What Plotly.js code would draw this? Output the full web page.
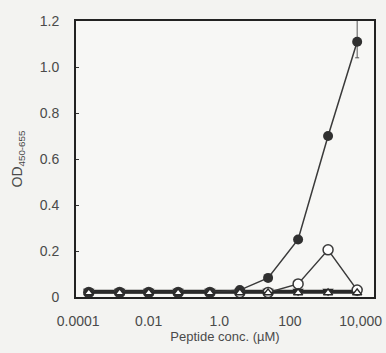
<!DOCTYPE html>
<html><head><meta charset="utf-8">
<script src="https://cdn.plot.ly/plotly-3.0.1.min.js"></script>
<style>html,body{margin:0;padding:0;background:#f3f3f1;}</style>
</head><body><div id="chart" style="width:386px;height:353px;"></div>
<script>
const conc = [0.0002, 0.0015, 0.01, 0.068, 0.54, 3.8, 24, 170, 1200, 8000];
const filledCircle = [0.02, 0.02, 0.02, 0.02, 0.02, 0.03, 0.083, 0.25, 0.70, 1.11];
const openCircle = [0.02, 0.02, 0.02, 0.02, 0.02, 0.02, 0.02, 0.057, 0.205, 0.03];
const filledTriangle = [0.025, 0.025, 0.025, 0.025, 0.025, 0.025, 0.025, 0.025, 0.025, 0.025];
const openTriangle = [0.018, 0.018, 0.018, 0.018, 0.018, 0.018, 0.018, 0.018, 0.018, 0.018];
const errPlus = [0, 0, 0, 0, 0, 0, 0, 0, 0, 0.12];
const errMinus = [0, 0, 0, 0, 0, 0, 0, 0, 0, 0.07];
const tickVals = [0.0001, 0.01, 1, 100, 10000];
const tickText = ['0.0001', '0.01', '1.0', '100', '10,000'];
const yTickVals = [0, 0.2, 0.4, 0.6, 0.8, 1.0, 1.2];
const yTickText = ['0', '0.2', '0.4', '0.6', '0.8', '1.0', '1.2'];

const lineCol = '#3a3a3a';
const traces = [
  {x: conc, y: filledTriangle, mode: 'lines+markers', line: {color: '#2a2a2a', width: 3},
   marker: {symbol: 'triangle-down', size: 10, color: '#2a2a2a'}},
  {x: conc, y: openCircle, mode: 'lines+markers', line: {color: lineCol, width: 1.5},
   marker: {symbol: 'circle', size: 10, color: '#ffffff', line: {color: lineCol, width: 1.5}}},
  {x: conc, y: filledCircle, mode: 'lines+markers', line: {color: lineCol, width: 1.5},
   marker: {symbol: 'circle', size: 10, color: '#303030'},
   error_y: {type: 'data', symmetric: false, array: errPlus, arrayminus: errMinus, color: '#555', thickness: 1, width: 2}},
  {x: conc, y: openTriangle, mode: 'lines+markers', line: {color: '#2a2a2a', width: 2},
   marker: {symbol: 'triangle-up', size: 8, color: '#ffffff', line: {color: '#2a2a2a', width: 1.5}}}
];

const layout = {
  width: 386, height: 353,
  margin: {l: 76, r: 12, t: 21, b: 56},
  paper_bgcolor: '#f3f3f1', plot_bgcolor: '#f7f7f5',
  showlegend: false,
  font: {family: 'Liberation Sans, Arial, sans-serif', color: '#4a4a4a', size: 14},
  xaxis: {type: 'log', range: [-4.06, 4.38], tickvals: tickVals, ticktext: tickText,
    showgrid: false, zeroline: false, showline: true, linecolor: '#222', linewidth: 2, mirror: true,
    ticks: '', tickfont: {size: 14, color: '#4a4a4a'}, ticklabelstandoff: 10,
    title: {text: 'Peptide conc. (µM)', font: {size: 13, color: '#4a4a4a'}, standoff: 4}},
  yaxis: {range: [0, 1.2], tickvals: yTickVals, ticktext: yTickText,
    showgrid: false, zeroline: false, showline: true, linecolor: '#222', linewidth: 2, mirror: true,
    ticks: 'inside', ticklen: 3, tickcolor: '#333', tickfont: {size: 14, color: '#4a4a4a'},
    ticklabelstandoff: 12,
    title: {text: 'OD<sub>450-655</sub>', font: {size: 14, color: '#4a4a4a'}, standoff: 14}}
};
Plotly.newPlot('chart', traces, layout, {staticPlot: true, displayModeBar: false});
</script></body></html>
